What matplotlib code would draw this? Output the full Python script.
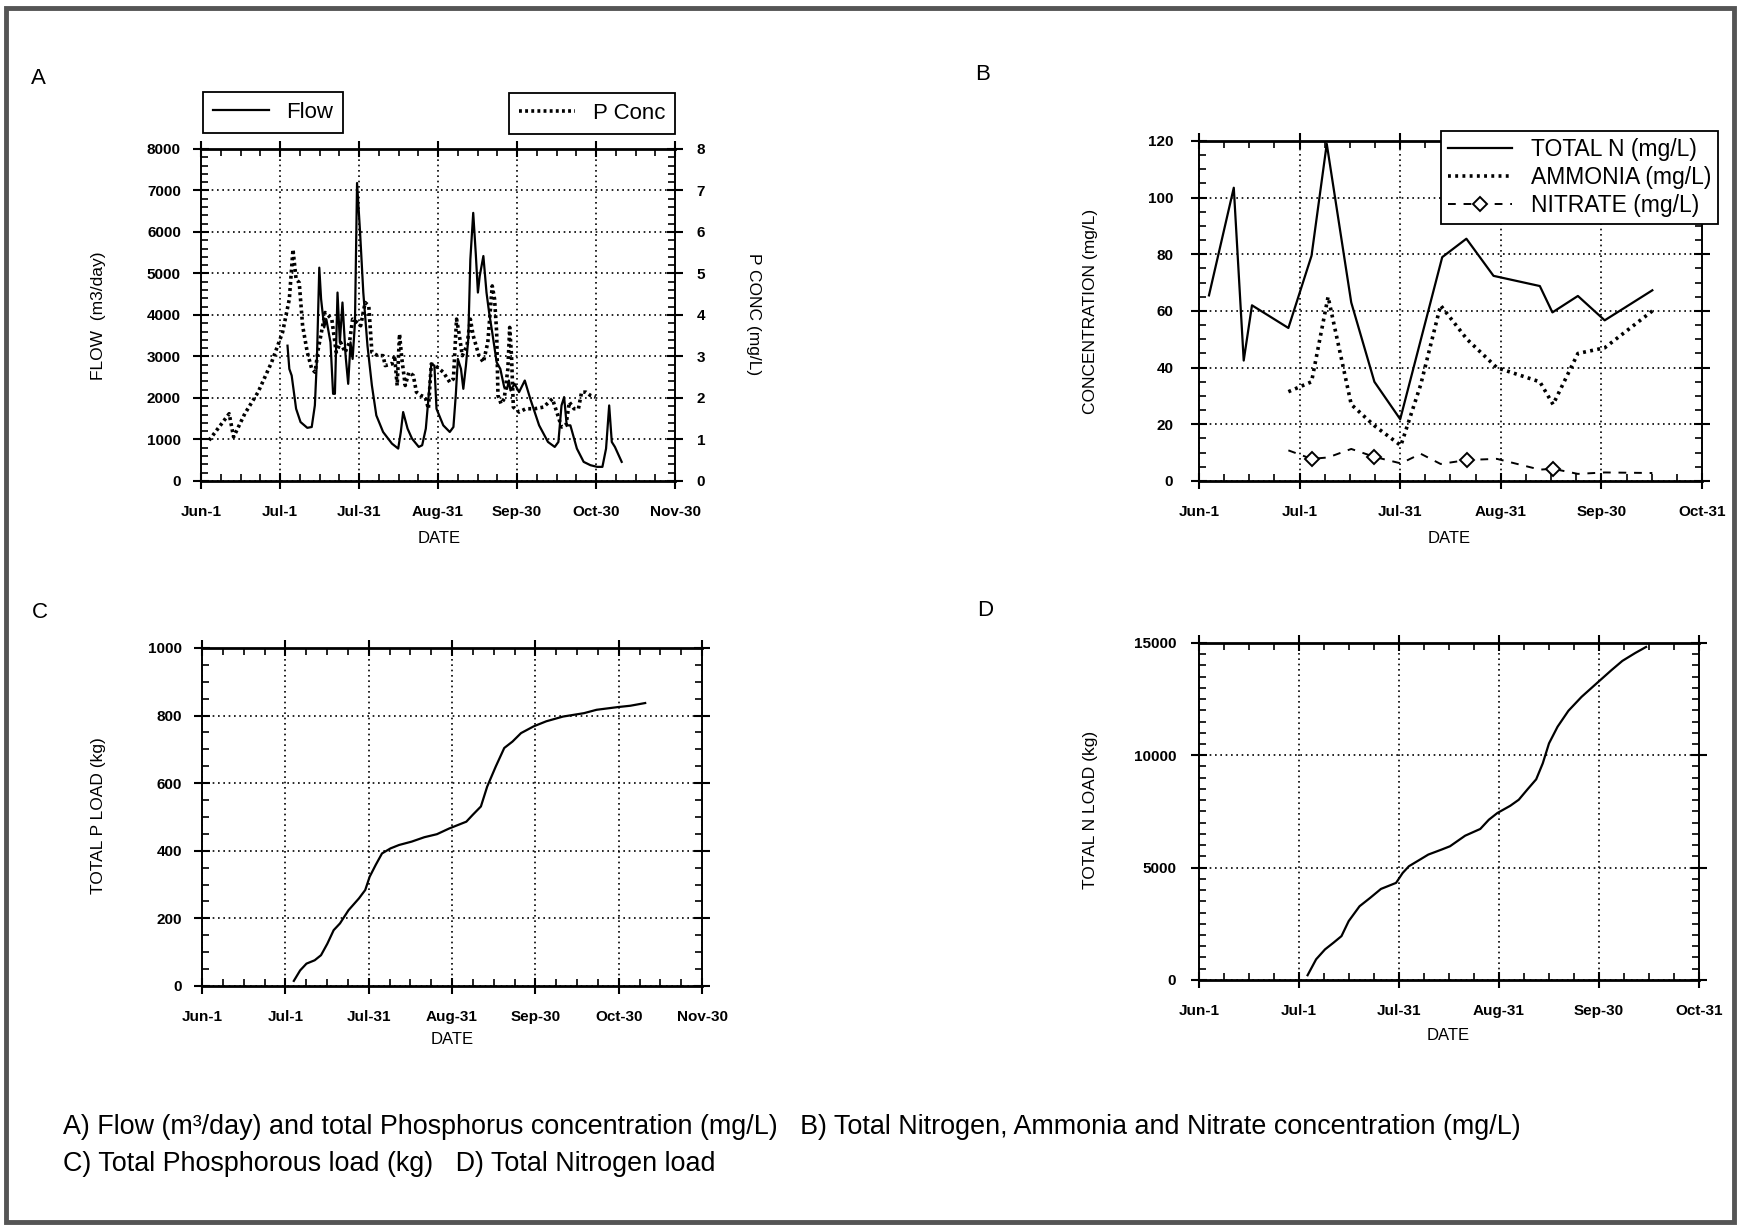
"""
Flow, phosphorus and nitrogen panels (A-D) rebuilt from a scanned figure.
"""

import numpy as np
import matplotlib
matplotlib.use('Agg')
import matplotlib.pyplot as plt
from matplotlib.ticker import AutoMinorLocator, MultipleLocator
from matplotlib.lines import Line2D
from matplotlib.patches import Rectangle

plt.rcParams['font.family'] = ['Liberation Sans', 'DejaVu Sans']

# days counted from Jun-1

labels_jun_nov = ['Jun-1', 'Jul-1', 'Jul-31', 'Aug-31', 'Sep-30', 'Oct-30', 'Nov-30']
labels_jun_oct = ['Jun-1', 'Jul-1', 'Jul-31', 'Aug-31', 'Sep-30', 'Oct-31']

# A) flow (m3/day)
flow_day = [33.2, 33.9, 34.8, 36.5, 38.2, 40.8, 42.5, 43.7, 44.5, 45.4, 46.1, 47.3, 48.1,
            49.7, 50.7, 51.4, 52.4, 53.3, 54.3, 55.5, 56.5, 57.4, 58.2, 59.1, 59.9, 61.0,
            62.3, 63.9, 65.6, 67.3, 69.9, 73.3, 75.7, 76.7, 77.6, 79.3, 81.0, 83.6, 84.9,
            86.3, 87.3, 88.4, 89.6, 90.4, 93.0, 95.5, 96.9, 97.8, 98.6, 99.8, 100.7, 101.7,
            102.6, 103.4, 104.5, 105.5, 106.3, 107.0, 108.4, 109.6, 110.6, 111.8, 113.5,
            114.9, 116.4, 117.5, 118.2, 118.8, 120.4, 122.1, 124.3, 126.4, 129.8, 133.2,
            135.8, 137.2, 138.4, 139.4, 140.4, 141.8, 144.3, 146.9, 149.5, 152.1, 154.1,
            155.5, 156.7, 157.7, 158.9, 161.5]
flow_val = [3260, 2700, 2540, 1740, 1420, 1280, 1300, 1820, 2940, 5140, 4380, 3700, 3900,
            3340, 2100, 2100, 4540, 3340, 4300, 3020, 2340, 3340, 2940, 3820, 7180, 6060,
            4540, 3260, 2300, 1580, 1180, 900, 780, 1180, 1660, 1260, 1020, 820, 860,
            1260, 1980, 2820, 2780, 1740, 1340, 1180, 1300, 2060, 2940, 2700, 2220, 2780,
            3420, 5340, 6460, 5460, 4540, 4940, 5420, 4540, 4060, 3580, 2860,
            2700, 2260, 2220, 2420, 2180, 2340, 2140, 2420, 1980, 1340, 940,
            820, 940, 1820, 2020, 1340, 1340, 780, 460, 380, 340, 340,
            780, 1820, 940, 820, 460]

# A) P concentration (mg/L)
pconc_day = [3.1, 10.8, 12.5, 16.8, 21.9, 27.1, 31.3, 33.9, 35.3, 36.5, 37.7, 39.0, 40.8,
             42.5, 43.8, 45.0, 46.7, 47.6, 49.0, 50.2, 51.9, 53.6, 55.3, 57.0, 58.2, 59.9,
             61.3, 63.0, 64.4, 65.6, 67.8, 69.9, 70.7, 73.3, 74.3, 75.3, 76.2, 77.1, 78.4,
             79.8, 81.5, 82.7, 84.4, 86.1, 87.3, 88.4, 90.0, 93.0, 95.5, 96.9, 98.1, 99.0,
             100.3, 102.1, 103.4, 104.5, 106.7, 108.4, 110.1, 111.8, 112.7, 113.5, 114.0,
             115.2, 116.4, 117.8, 118.5, 119.2, 119.9, 122.1, 124.7, 128.1, 131.5, 134.9,
             137.0, 138.4, 140.1, 141.4, 143.2, 144.9, 146.1, 147.8, 149.5, 151.5]
pconc_val = [0.98, 1.62, 1.06, 1.62, 2.14, 2.86, 3.58, 4.38, 5.58, 4.86, 4.78, 3.74, 3.10,
             2.70, 2.62, 3.18, 3.74, 4.06, 3.98, 3.90, 3.10, 3.34, 3.10, 3.34, 3.90, 3.82,
             3.74, 4.30, 4.22, 3.10, 3.02, 3.02, 2.78, 2.82, 3.02, 2.30, 3.54, 2.94, 2.30,
             2.62, 2.54, 2.14, 2.06, 2.02, 1.74, 2.82, 2.78, 2.62, 2.38, 2.46, 3.90, 3.58,
             3.02, 3.26, 3.90, 3.50, 3.02, 2.86, 3.34, 4.70, 4.38, 3.58, 2.06,
             1.86, 1.98, 2.70, 3.70, 3.02, 1.78, 1.66, 1.74, 1.74, 1.78, 1.98,
             1.58, 1.30, 1.34, 1.90, 1.74, 1.74, 2.14, 2.14, 2.06, 2.02]

# B) concentrations (mg/L)
totn_day = [3, 10.5, 13.5, 16, 27, 34, 38.6, 46, 53, 60.8, 73.5, 80.8, 89, 103, 106.8,
            114.5, 122.6, 137]
totn_val = [65.5, 103.5, 42.5, 62, 54, 79.5, 119, 63, 35, 21.8, 79, 85.5, 72.4, 68.8, 59.5,
            65.3, 56.7, 67.3]
nh_day = [27, 34, 39, 46, 53, 61, 67, 73, 81, 90, 103, 107, 114.5, 122.6, 137]
ammonia_val = [31.5, 35, 65, 27, 19.5, 12.5, 34, 62, 50, 40, 35, 27, 45, 47, 60]
nitrate_val = [10.8, 7.8, 8.3, 11.3, 8.5, 6.2, 9.6, 6.0, 7.4, 7.8, 4.0, 4.3, 2.5, 3.0, 2.8]
nitrate_marks = [1, 4, 8, 11]

# C) cumulative P load (kg)
pload_day = [33.4, 35.7, 38.0, 41.0, 43.3, 45.6, 47.9, 50.2, 53.3, 57.1, 59.4, 61.0, 63.2,
             65.5, 68.6, 71.7, 76.3, 80.9, 85.5, 90.0, 96.2, 98.5, 101.5, 103.8, 106.9,
             110.0, 113.0, 116.1, 120.7, 125.3, 131.4, 139.0, 143.6, 151.3, 155.9, 161.3]
pload_val = [15, 46, 66, 76, 91, 125, 165, 185, 224, 259, 284, 323, 358,
             392, 407, 417, 427, 440, 449, 466, 486, 506, 531, 590, 649,
             704, 723, 748, 768, 783, 797, 807, 817, 825, 829, 837]

# D) cumulative N load (kg)
nload_day = [33.0, 35.6, 38.3, 40.9, 43.3, 45.5, 48.8, 52.0, 55.3, 59.9, 61.9, 63.8, 67.1,
             69.7, 73.7, 76.3, 80.9, 85.5, 88.1, 90.7, 94.6, 97.2, 99.9, 102.5, 104.5,
             106.4, 109.0, 112.3, 116.3, 120.8, 125.4, 128.7, 132.6, 135.9]
nload_val = [210, 920, 1360, 1660, 1950, 2620, 3280, 3650, 4050, 4320, 4760, 5060, 5350,
             5580, 5800, 5950, 6420, 6720, 7130, 7430, 7750, 8020, 8490, 8930, 9640,
             10530, 11270, 11980, 12600, 13190, 13790, 14200, 14550, 14820]


def style_axes(ax, xmax, xlabels, ymax, ystep, yminor, ypad=10):
    """Scanned-report look: dotted grid, in/out major ticks, inward minor ticks"""

    ax.set_xlim(0, xmax)
    ax.set_xticks(np.linspace(0, xmax, len(xlabels)))
    ax.set_xticklabels(xlabels)
    ax.xaxis.set_minor_locator(AutoMinorLocator(4))
    ax.set_ylim(0, ymax)
    ax.yaxis.set_major_locator(MultipleLocator(ystep))
    ax.yaxis.set_minor_locator(AutoMinorLocator(yminor))
    ax.set_axisbelow(True)
    ax.grid(True, which='major', color='black', linestyle=(0, (1, 2.2)), linewidth=1.2)
    ax.tick_params(which='major', direction='inout', length=11, width=1.5,
                   top=True, right=True, labelsize=11)
    ax.tick_params(which='minor', direction='in', length=5, width=1.2, top=True, right=True)
    ax.tick_params(axis='x', which='major', pad=12)
    ax.tick_params(axis='y', which='major', pad=ypad)
    for side in ['left', 'right']:
        ax.spines[side].set_linewidth(1.4)
    for side in ['top', 'bottom']:
        ax.spines[side].set_linewidth(2.0)
    for lab in ax.get_xticklabels() + ax.get_yticklabels():
        lab.set_fontweight('bold')


def plot_panel_a(fig):
    """Flow and P concentration"""

    ax = fig.add_axes([0.1156, 0.6077, 0.2726, 0.2708])
    style_axes(ax, 182, labels_jun_nov, 8000, 1000, 5, ypad=9)
    ax.tick_params(which='both', right=False)
    ax.plot(flow_day, flow_val, color='black', linewidth=1.6)

    ax2 = ax.twinx()
    ax2.set_ylim(0, 8)
    ax2.yaxis.set_major_locator(MultipleLocator(1))
    ax2.yaxis.set_minor_locator(AutoMinorLocator(5))
    ax2.tick_params(which='major', direction='inout', length=11, width=1.5, labelsize=11, pad=10)
    ax2.tick_params(which='minor', direction='in', length=5, width=1.2)
    for lab in ax2.get_yticklabels():
        lab.set_fontweight('bold')
    for side in ax2.spines:
        ax2.spines[side].set_visible(False)
    ax2.plot(pconc_day, pconc_val, color='black', linewidth=2.6, linestyle=(0, (0.8, 0.9)))

    flow_handle = Line2D([], [], color='black', linewidth=1.6)
    p_handle = Line2D([], [], color='black', linewidth=2.6, linestyle=(0, (0.8, 0.9)))
    leg_kw = dict(fontsize=16, frameon=True, fancybox=False, edgecolor='black',
                  handlelength=2.5, borderpad=0.45, borderaxespad=0,
                  bbox_transform=fig.transFigure)
    leg1 = fig.legend([flow_handle], ['Flow'], loc='lower left',
                      bbox_to_anchor=(203 / 1739, 1 - 133 / 1226), **leg_kw)
    leg2 = fig.legend([p_handle], ['P Conc'], loc='lower right',
                      bbox_to_anchor=(675 / 1739, 1 - 134 / 1226), **leg_kw)
    for leg in [leg1, leg2]:
        leg.get_frame().set_linewidth(1.3)
        leg.get_frame().set_alpha(None)

    fig.text(98 / 1739, 1 - 316 / 1226, 'FLOW  (m3/day)', rotation=90, fontsize=12.5,
             ha='center', va='center')
    fig.text(754 / 1739, 1 - 314 / 1226, 'P CONC (mg/L)', rotation=270, fontsize=12.5,
             ha='center', va='center')
    fig.text(439 / 1739, 1 - 538 / 1226, 'DATE', fontsize=12, ha='center', va='center')


def plot_panel_b(fig):
    """Total N, ammonia and nitrate concentrations"""

    ax = fig.add_axes([0.6895, 0.6077, 0.2892, 0.2773])
    style_axes(ax, 152, labels_jun_oct, 120, 20, 4, ypad=13)
    ax.plot(totn_day, totn_val, color='black', linewidth=1.6, label='TOTAL N (mg/L)')
    ax.plot(nh_day, ammonia_val, color='black', linewidth=2.6, linestyle=(0, (0.8, 1.2)),
            label='AMMONIA (mg/L)')
    ax.plot(nh_day, nitrate_val, color='black', linewidth=1.4, linestyle=(0, (4, 4)),
            marker='D', markersize=7, markerfacecolor='white', markeredgecolor='black',
            markeredgewidth=1.4, markevery=nitrate_marks, label='NITRATE (mg/L)')
    leg = fig.legend(loc='upper right', bbox_to_anchor=(1718 / 1739, 1 - 131 / 1226),
                     bbox_transform=fig.transFigure, fontsize=16.5, fancybox=False,
                     edgecolor='black', handlelength=2.8, borderpad=0.3, labelspacing=0.22,
                     borderaxespad=0, handles=ax.get_lines())
    leg.get_frame().set_linewidth(1.3)
    leg.get_frame().set_alpha(None)

    fig.text(1090 / 1739, 1 - 311 / 1226, 'CONCENTRATION (mg/L)', rotation=90, fontsize=12.5,
             ha='center', va='center')
    fig.text(1449 / 1739, 1 - 538 / 1226, 'DATE', fontsize=12, ha='center', va='center')


def plot_panel_c(fig):
    """Cumulative P load"""

    ax = fig.add_axes([0.1162, 0.1958, 0.2875, 0.2757])
    style_axes(ax, 182, labels_jun_nov, 1000, 200, 4, ypad=9)
    ax.plot(pload_day, pload_val, color='black', linewidth=1.6)
    fig.text(98 / 1739, 1 - 816 / 1226, 'TOTAL P LOAD (kg)', rotation=90, fontsize=12.5,
             ha='center', va='center')
    fig.text(452 / 1739, 1 - 1040 / 1226, 'DATE', fontsize=12, ha='center', va='center')


def plot_panel_d(fig):
    """Cumulative N load"""

    ax = fig.add_axes([0.6895, 0.2007, 0.2875, 0.2749])
    style_axes(ax, 152, labels_jun_oct, 15000, 5000, 10, ypad=11)
    ax.plot(nload_day, nload_val, color='black', linewidth=1.6)
    fig.text(1090 / 1739, 1 - 810 / 1226, 'TOTAL N LOAD (kg)', rotation=90, fontsize=12.5,
             ha='center', va='center')
    fig.text(1448 / 1739, 1 - 1036 / 1226, 'DATE', fontsize=12, ha='center', va='center')


def main():
    """Build the four-panel figure"""

    fig = plt.figure(figsize=(17.39, 12.26), dpi=100)

    plot_panel_a(fig)
    plot_panel_b(fig)
    plot_panel_c(fig)
    plot_panel_d(fig)

    for letter, x, y in [('A', 38, 78), ('B', 983, 74), ('C', 40, 613), ('D', 985, 610)]:
        fig.text(x / 1739, 1 - y / 1226, letter, fontsize=16, ha='center', va='center')

    fig.text(63 / 1739, 1 - 1127 / 1226,
             'A) Flow (m\u00b3/day) and total Phosphorus concentration (mg/L)   '
             'B) Total Nitrogen, Ammonia and Nitrate concentration (mg/L)',
             fontsize=19.4, ha='left', va='center')
    fig.text(63 / 1739, 1 - 1164 / 1226,
             'C) Total Phosphorous load (kg)   D) Total Nitrogen load',
             fontsize=19.4, ha='left', va='center')

    fig.patches.append(Rectangle((0.0035, 0.0035), 0.9935, 0.990, transform=fig.transFigure,
                                 fill=False, edgecolor='#555555', linewidth=3.5))

    fig.savefig('out.png', dpi=100)


if __name__ == '__main__':
    main()
